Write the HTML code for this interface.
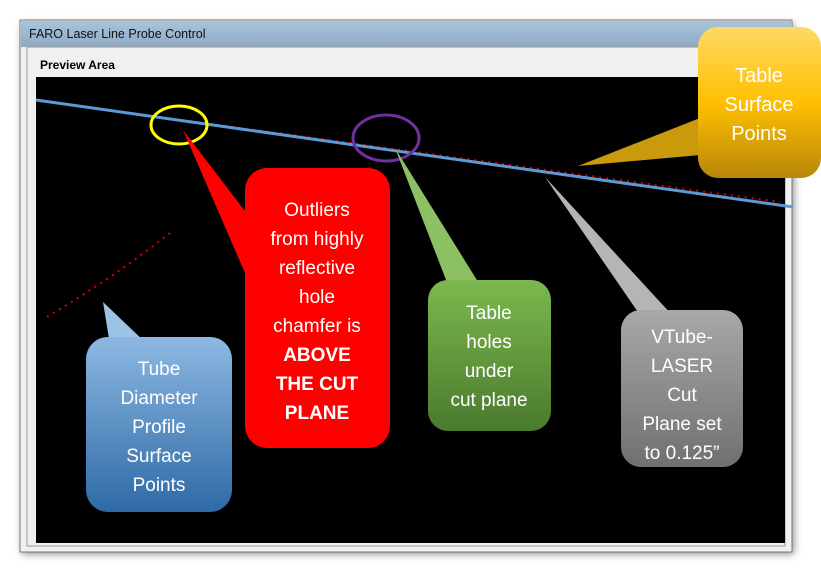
<!DOCTYPE html>
<html><head><meta charset="utf-8"><style>
html,body{margin:0;padding:0;background:#fff;width:821px;height:572px;overflow:hidden}
svg{display:block}
text{font-family:"Liberation Sans",sans-serif;fill:#fff;text-anchor:middle}
</style></head><body>
<svg width="821" height="572" viewBox="0 0 821 572" xmlns="http://www.w3.org/2000/svg">
<defs>
<linearGradient id="tb" x1="0" y1="0" x2="0" y2="1"><stop offset="0" stop-color="#a9c5dc"/><stop offset="1" stop-color="#8ea9c2"/></linearGradient>
<linearGradient id="og" x1="0" y1="0" x2="0" y2="1"><stop offset="0" stop-color="#ffd966"/><stop offset="0.5" stop-color="#ffc000"/><stop offset="1" stop-color="#b8860b"/></linearGradient>
<linearGradient id="gg" x1="0" y1="0" x2="0" y2="1"><stop offset="0" stop-color="#7cb84e"/><stop offset="1" stop-color="#4a7a2e"/></linearGradient>
<linearGradient id="gr" x1="0" y1="0" x2="0" y2="1"><stop offset="0" stop-color="#a8a8a8"/><stop offset="1" stop-color="#707070"/></linearGradient>
<linearGradient id="bg" x1="0" y1="0" x2="0" y2="1"><stop offset="0" stop-color="#8db8e2"/><stop offset="1" stop-color="#2f6aa6"/></linearGradient>
<filter id="sh" x="-5%" y="-5%" width="110%" height="110%"><feGaussianBlur stdDeviation="4"/></filter>
</defs>
<rect x="22" y="24" width="772" height="530" fill="#888" filter="url(#sh)"/>
<rect x="20" y="20" width="772" height="532" fill="#f0f0f0" stroke="#777" stroke-width="1"/>
<rect x="21" y="21" width="770" height="26" fill="url(#tb)"/>
<text x="29" y="38" style="font-size:12.5px;fill:#111;text-anchor:start">FARO Laser Line Probe Control</text>
<rect x="27" y="47" width="758" height="499" fill="#f0f0f0" stroke="#999"/>
<text x="40" y="69" style="font-size:12px;fill:#000;font-weight:bold;text-anchor:start">Preview Area</text>
<rect x="36" y="77" width="749" height="466" fill="#000"/>
<line x1="190" y1="121" x2="780" y2="202" stroke="#d00" stroke-width="2" stroke-dasharray="2 5"/>
<path d="M170 233 Q110 280 45 318" fill="none" stroke="#d00" stroke-width="2" stroke-dasharray="2 5"/>
<line x1="36" y1="100" x2="793" y2="207" stroke="#5b9bd5" stroke-width="3"/>
<ellipse cx="179" cy="125" rx="28" ry="19" fill="none" stroke="#ffff00" stroke-width="3"/>
<ellipse cx="386" cy="138" rx="33" ry="23" fill="none" stroke="#7030a0" stroke-width="3"/>
<path d="M578 166 L700 118 L700 155 Z" fill="#c99a0c"/>
<rect x="698" y="27" width="123" height="151" rx="20" fill="url(#og)"/>
<text style="font-size:20px"><tspan x="759" y="82">Table</tspan><tspan x="759" y="111">Surface</tspan><tspan x="759" y="140">Points</tspan></text>
<path d="M183 130 L248 280 L248 215 Z" fill="#f00"/>
<rect x="245" y="168" width="145" height="280" rx="22" fill="#f00"/>
<text style="font-size:19px"><tspan x="317" y="216">Outliers</tspan><tspan x="317" y="245">from highly</tspan><tspan x="317" y="274">reflective</tspan><tspan x="317" y="303">hole</tspan><tspan x="317" y="332">chamfer is</tspan><tspan x="317" y="361" font-weight="bold">ABOVE</tspan><tspan x="317" y="390" font-weight="bold">THE CUT</tspan><tspan x="317" y="419" font-weight="bold">PLANE</tspan></text>
<path d="M395 148 L448 285 L480 285 Z" fill="#8dc063"/>
<rect x="428" y="280" width="123" height="151" rx="20" fill="url(#gg)"/>
<text style="font-size:19px"><tspan x="489" y="319">Table</tspan><tspan x="489" y="348">holes</tspan><tspan x="489" y="377">under</tspan><tspan x="489" y="406">cut plane</tspan></text>
<path d="M545 177 L640 315 L672 315 Z" fill="#b5b5b5"/>
<rect x="621" y="310" width="122" height="157" rx="20" fill="url(#gr)"/>
<text style="font-size:19px"><tspan x="682" y="343">VTube-</tspan><tspan x="682" y="372">LASER</tspan><tspan x="682" y="401">Cut</tspan><tspan x="682" y="430">Plane set</tspan><tspan x="682" y="459">to 0.125”</tspan></text>
<path d="M103 302 L110 345 L148 345 Z" fill="#9cc3e6"/>
<rect x="86" y="337" width="146" height="175" rx="22" fill="url(#bg)"/>
<text style="font-size:19px"><tspan x="159" y="375">Tube</tspan><tspan x="159" y="404">Diameter</tspan><tspan x="159" y="433">Profile</tspan><tspan x="159" y="462">Surface</tspan><tspan x="159" y="491">Points</tspan></text>
</svg>
</body></html>
